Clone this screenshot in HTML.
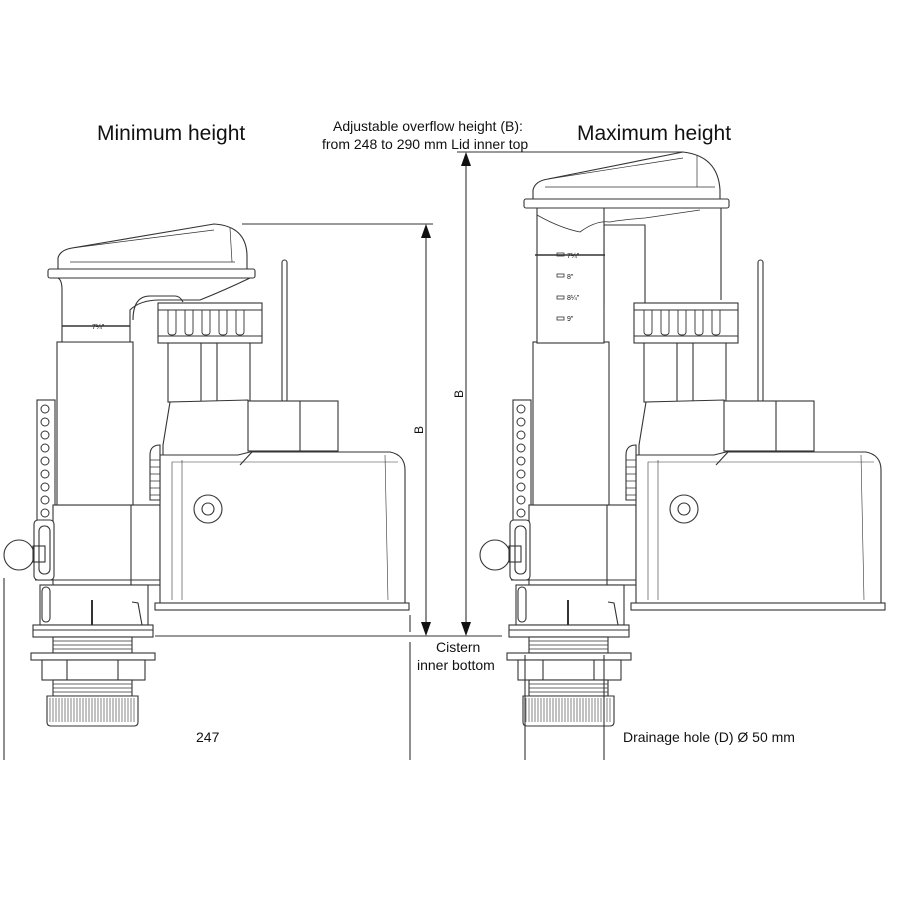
<!DOCTYPE html>
<html><head><meta charset="utf-8"><style>
html,body{margin:0;padding:0;background:#fff}
svg{display:block}
text{font-family:"Liberation Sans",sans-serif;fill:#111}
</style></head><body>
<svg width="900" height="900" viewBox="0 0 900 900" xmlns="http://www.w3.org/2000/svg">
<defs>
<g id="base" fill="none" stroke="#333" stroke-width="1.1">
  <rect x="37" y="400" width="18" height="180" fill="#fff"/>
  <g stroke-width="1">
    <circle cx="45" cy="409" r="4"/><circle cx="45" cy="422" r="4"/><circle cx="45" cy="435" r="4"/>
    <circle cx="45" cy="448" r="4"/><circle cx="45" cy="461" r="4"/><circle cx="45" cy="474" r="4"/>
    <circle cx="45" cy="487" r="4"/><circle cx="45" cy="500" r="4"/><circle cx="45" cy="513" r="4"/>
  </g>
  <rect x="53" y="505" width="107" height="80" fill="#fff"/>
  <line x1="131" y1="505" x2="131" y2="585"/>
  <line x1="35" y1="580" x2="162" y2="580"/>
  <rect x="34" y="520" width="20" height="60" rx="4" fill="#fff"/>
  <rect x="39" y="526" width="11" height="48" rx="5"/>
  <circle cx="19" cy="555" r="15" fill="#fff"/>
  <rect x="33" y="546" width="12" height="16"/>
  <rect x="40" y="585" width="108" height="40" fill="#fff"/>
  <rect x="42" y="587" width="8" height="35" rx="4"/>
  <line x1="92" y1="600" x2="92" y2="625" stroke-width="2"/>
  <path d="M132,602 L138,603 L142,625"/>
  <rect x="33" y="625" width="120" height="12" fill="#fff"/>
  <line x1="33" y1="630" x2="153" y2="630"/>
  <rect x="53" y="637" width="79" height="16" fill="#fff"/>
  <g stroke-width="0.7"><line x1="53" y1="641" x2="132" y2="641"/><line x1="53" y1="645" x2="132" y2="645"/><line x1="53" y1="649" x2="132" y2="649"/></g>
  <rect x="31" y="653" width="124" height="7" fill="#fff"/>
  <rect x="42" y="660" width="103" height="20" fill="#fff"/>
  <line x1="67" y1="660" x2="67" y2="680"/><line x1="118" y1="660" x2="118" y2="680"/>
  <rect x="53" y="680" width="79" height="16" fill="#fff"/>
  <g stroke-width="0.7"><line x1="53" y1="684" x2="132" y2="684"/><line x1="53" y1="688" x2="132" y2="688"/><line x1="53" y1="692" x2="132" y2="692"/></g>
  <path d="M47,696 L138,696 L138,722 Q138,726 134,726 L51,726 Q47,726 47,722 Z" fill="#fff"/>
  <path d="M50,698 V722 M53,698 V722 M56,698 V722 M59,698 V722 M62,698 V722 M65,698 V722 M68,698 V722 M71,698 V722 M74,698 V722 M77,698 V722 M80,698 V722 M83,698 V722 M86,698 V722 M89,698 V722 M92,698 V722 M95,698 V722 M98,698 V722 M101,698 V722 M104,698 V722 M107,698 V722 M110,698 V722 M113,698 V722 M116,698 V722 M119,698 V722 M122,698 V722 M125,698 V722 M128,698 V722 M131,698 V722 M134,698 V722" stroke-width="0.6"/>
  <rect x="57" y="342" width="76" height="163" fill="#fff"/>
  <rect x="282" y="260" width="5" height="142" rx="2.5" fill="#fff"/>
  <rect x="168" y="342" width="82" height="60" fill="#fff"/>
  <rect x="201" y="343" width="16" height="62" fill="#fff"/>
  <path d="M163,600 L163,445 L170,402 L248,400 L262,455 L160,455" fill="#fff"/>
  <rect x="248" y="401" width="90" height="50" fill="#fff"/>
  <line x1="300" y1="401" x2="300" y2="451"/>
  <path d="M160,608 L160,455 L238,455 L250,452 L390,452 Q405,455 405,470 L405,605" fill="#fff"/>
  <path d="M172,600 L172,462 L398,462" stroke-width="0.6"/>
  <line x1="252" y1="452" x2="240" y2="465"/>
  <line x1="385" y1="455" x2="388" y2="600" stroke-width="0.6"/>
  <line x1="182" y1="460" x2="182" y2="600" stroke-width="0.6"/>
  <rect x="155" y="603" width="254" height="7" fill="#fff"/>
  <circle cx="208" cy="509" r="14"/><circle cx="208" cy="509" r="6"/>
  <path d="M150,455 L150,500 L160,500 L160,445 Q150,445 150,455 Z" fill="#fff"/>
  <path d="M150,460 H160 M150,467 H160 M150,474 H160 M150,481 H160 M150,488 H160 M150,495 H160" stroke-width="0.8"/>
</g>
<g id="nut" fill="#fff" stroke="#333" stroke-width="1.1">
  <rect x="158" y="303" width="104" height="40"/>
  <line x1="158" y1="310" x2="262" y2="310"/><line x1="158" y1="336" x2="262" y2="336"/>
  <path d="M168,310 V332 Q168,335 172,335 Q176,335 176,332 V310 M185,310 V332 Q185,335 189,335 Q193,335 193,332 V310 M202,310 V332 Q202,335 206,335 Q210,335 210,332 V310 M219,310 V332 Q219,335 223,335 Q227,335 227,332 V310 M236,310 V332 Q236,335 240,335 Q244,335 244,332 V310" fill="none" stroke-width="0.9"/>
</g>
</defs>

<use href="#base"/>
<g fill="#fff" stroke="#333" stroke-width="1.1">
  <path d="M62,342 L62,290 Q62,280 58,278 L250,278 Q225,290 200,300 L160,300 Q140,300 130,310 L130,342 Z"/>
  <path d="M133,320 Q133,296 150,296 L175,296 Q180,296 183,302" fill="none"/>
  <line x1="62" y1="326" x2="130" y2="326" stroke-width="1.6"/>
  <rect x="48" y="269" width="207" height="9" rx="2"/>
  <path d="M58,269 L58,258 Q60,250 72,248 L214,224 Q246,226 247,255 L247,269 Z"/>
  <path d="M70,262 L235,262 M72,248 L214,230 M230,228 L232,262" fill="none" stroke-width="0.7"/>
</g>
<text x="92" y="329" font-size="7">7¼"</text>
<use href="#nut"/>

<use href="#base" transform="translate(476,0)"/>
<g fill="#fff" stroke="#333" stroke-width="1.1">
  <path d="M604,305 L604,225 L645,225 L645,305" />
  <line x1="721" y1="207" x2="721" y2="300"/>
  <rect x="537" y="207" width="67" height="136"/>
  <path d="M537,215 Q560,228 580,232 Q596,220 610,222 Q620,220 645,218 L700,210" fill="none" stroke-width="0.8"/>
  <line x1="535" y1="255" x2="605" y2="255" stroke-width="1.6"/>
  <g fill="none" stroke-width="0.8">
    <rect x="557" y="253" width="7" height="3"/><rect x="557" y="274" width="7" height="3"/>
    <rect x="557" y="296" width="7" height="3"/><rect x="557" y="317" width="7" height="3"/>
  </g>
  <rect x="524" y="199" width="205" height="9" rx="2"/>
  <path d="M533,199 L533,190 Q535,181 548,179 L683,152 Q718,156 720,190 L720,199 Z"/>
  <path d="M545,187 L715,187 M548,179 L683,158 M697,155 L697,187" fill="none" stroke-width="0.7"/>
</g>
<g font-size="7"><text x="567" y="258">7¼"</text><text x="567" y="279">8"</text><text x="567" y="300">8¼"</text><text x="567" y="321">9"</text></g>
<use href="#nut" transform="translate(476,0)"/>

<g stroke="#333" stroke-width="1.1" fill="none">
  <line x1="242" y1="224" x2="433" y2="224"/>
  <line x1="426" y1="232" x2="426" y2="628"/>
  <line x1="457" y1="152" x2="683" y2="152"/>
  <line x1="466" y1="160" x2="466" y2="628"/>
  <line x1="155" y1="636" x2="502" y2="636"/>
  <line x1="4" y1="578" x2="4" y2="760"/>
  <line x1="410" y1="615" x2="410" y2="632"/>
  <line x1="410" y1="642" x2="410" y2="760"/>
  <line x1="525" y1="655" x2="525" y2="760"/>
  <line x1="604" y1="655" x2="604" y2="760"/>
</g>
<g fill="#111">
  <path d="M426,224 L421,238 L431,238 Z"/>
  <path d="M426,636 L421,622 L431,622 Z"/>
  <path d="M466,152 L461,166 L471,166 Z"/>
  <path d="M466,636 L461,622 L471,622 Z"/>
</g>
<text x="0" y="0" font-size="12" transform="translate(423,434) rotate(-90)">B</text>
<text x="0" y="0" font-size="12" transform="translate(463,398) rotate(-90)">B</text>

<text x="97" y="140" font-size="21">Minimum height</text>
<text x="577" y="140" font-size="21">Maximum height</text>
<text x="333" y="131" font-size="14">Adjustable overflow height (B):</text>
<text x="322" y="149" font-size="14">from 248 to 290 mm Lid inner top</text>
<text x="436" y="652" font-size="14">Cistern</text>
<text x="417" y="670" font-size="14">inner bottom</text>
<text x="196" y="742" font-size="14">247</text>
<text x="623" y="742" font-size="14">Drainage hole (D) Ø 50 mm</text>
</svg>
</body></html>
